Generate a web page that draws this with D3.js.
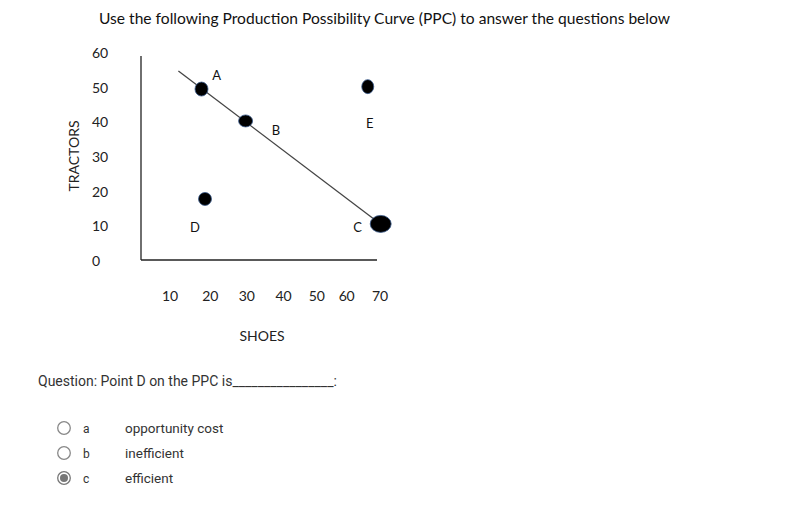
<!DOCTYPE html>
<html><head><meta charset="utf-8">
<script src="https://cdn.jsdelivr.net/npm/d3@7"></script>
<style>body{margin:0;background:#fff}</style>
</head><body>
<svg id="c" width="799" height="519"></svg>
<script>
const title = "Use the following Production Possibility Curve (PPC) to answer the questions below";
const yTicks = [0, 10, 20, 30, 40, 50, 60];
const xTickLabels = ["10", "20", "30", "40", "50", "60", "70"];
const yTitle = "TRACTORS";
const xTitle = "SHOES";
// points (shoes, tractors)
const pointNames = ["A", "B", "D", "E", "C"];
const pointX = [19, 31.6, 20, 66.5, 70.2];
const pointY = [49.6, 40.4, 17.9, 50.3, 10.7];
// point labels (shoes, tractors)
const labelNames = ["A", "B", "E", "D", "C"];
const labelX = [23.3, 40.3, 67.1, 17.1, 63.6];
const labelY = [53.4, 37.6, 39.7, 9.7, 9.7];
// PPC line endpoints
const lineX = [12.4, 68.9];
const lineY = [54.8, 11.6];
const question = "Question: Point D on the PPC is";
const optionKeys = ["a", "b", "c"];
const optionTexts = ["opportunity cost", "inefficient", "efficient"];
const selected = "c";

const svg = d3.select("#c");
const x = d3.scaleLinear().domain([10, 70]).range([170, 380]);
const y = d3.scaleLinear().domain([0, 60]).range([261, 53]);
const chartFont = "Lato, 'Open Sans', sans-serif";

svg.append("text").attr("x", 99).attr("y", 24)
  .attr("font-family", chartFont).attr("font-size", 15).attr("fill", "#111")
  .attr("textLength", 571).attr("lengthAdjust", "spacingAndGlyphs")
  .text(title);

// axes lines
svg.append("line").attr("x1", 141).attr("x2", 141).attr("y1", 56).attr("y2", 260)
  .attr("stroke", "#222").attr("stroke-width", 1.3);
svg.append("line").attr("x1", 141).attr("x2", 377).attr("y1", 260).attr("y2", 260)
  .attr("stroke", "#222").attr("stroke-width", 1.3);

// y tick labels
svg.append("g").selectAll("text").data(yTicks).join("text")
  .attr("x", 92).attr("y", d => y(d)).attr("dy", "0.35em")
  .attr("font-family", chartFont).attr("font-size", 14).attr("fill", "#222")
  .text(d => d);

// x tick labels (typed as a spaced text row, as in the original)
const gaps = [7, 6, 6, 5, 4, 5];
svg.append("text").attr("x", 162).attr("y", 301)
  .attr("font-family", chartFont).attr("font-size", 14).attr("fill", "#222")
  .attr("textLength", 226).attr("lengthAdjust", "spacing")
  .attr("xml:space", "preserve").style("white-space", "pre")
  .text(xTickLabels.map((d, i) => d + (i < gaps.length ? " ".repeat(gaps[i]) : "")).join(""));

svg.append("text").attr("x", 262).attr("y", 341).attr("text-anchor", "middle")
  .attr("font-family", chartFont).attr("font-size", 14).attr("fill", "#222").text(xTitle);
svg.append("text").attr("transform", "translate(79,156) rotate(-90)").attr("text-anchor", "middle")
  .attr("font-family", chartFont).attr("font-size", 14).attr("fill", "#222").text(yTitle);

// PPC line
svg.append("line").attr("x1", x(lineX[0])).attr("y1", y(lineY[0]))
  .attr("x2", x(lineX[1])).attr("y2", y(lineY[1])).attr("stroke", "#444").attr("stroke-width", 1.3);

const radii = {A: [6.5, 7], B: [7, 6], D: [6.5, 6.5], E: [6, 7], C: [10.5, 8.5]};
svg.append("g").selectAll("ellipse").data(pointNames).join("ellipse")
  .attr("cx", (d, i) => x(pointX[i])).attr("cy", (d, i) => y(pointY[i]))
  .attr("rx", d => radii[d][0]).attr("ry", d => radii[d][1])
  .attr("fill", "#000").attr("stroke", "#3a5a8c").attr("stroke-width", 0.8);

svg.append("g").selectAll("text").data(labelNames).join("text")
  .attr("x", (d, i) => x(labelX[i])).attr("y", (d, i) => y(labelY[i])).attr("dy", "0.35em")
  .attr("text-anchor", "middle").attr("font-family", chartFont).attr("font-size", 13).attr("fill", "#111")
  .text(d => d);

// question
const qFont = "Roboto, Arial, sans-serif";
svg.append("text").attr("x", 38).attr("y", 386)
  .attr("font-family", qFont).attr("font-size", 14).attr("fill", "#333")
  .text(question + "_".repeat(16) + ":");

const rows = [428, 453, 478];
const g = svg.append("g");
optionKeys.forEach((k, i) => {
  g.append("circle").attr("cx", 64).attr("cy", rows[i]).attr("r", 6.3)
    .attr("fill", "#fff").attr("stroke", k === selected ? "#777" : "#888").attr("stroke-width", 1.3);
  if (k === selected) g.append("circle").attr("cx", 64).attr("cy", rows[i]).attr("r", 4).attr("fill", "#777");
  g.append("text").attr("x", 83).attr("y", rows[i] + 5).attr("font-family", qFont)
    .attr("font-size", 12).attr("fill", "#333").text(k);
  g.append("text").attr("x", 125).attr("y", rows[i] + 4.5).attr("font-family", qFont)
    .attr("font-size", 13.5).attr("fill", "#333").text(optionTexts[i]);
});
</script>
</body></html>
